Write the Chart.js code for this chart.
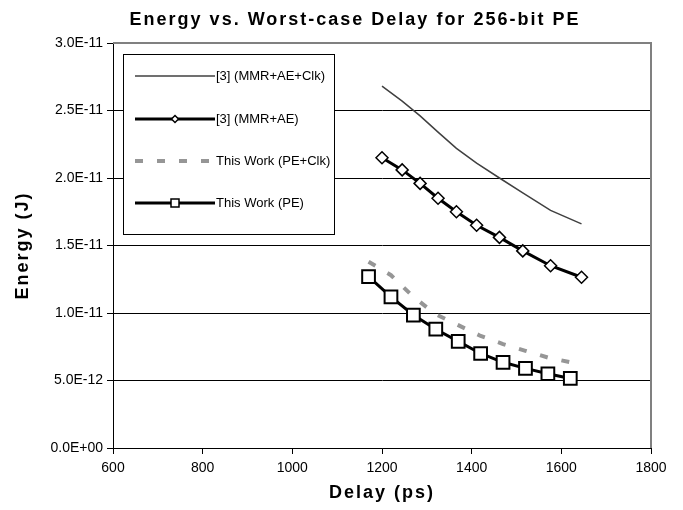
<!DOCTYPE html>
<html>
<head>
<meta charset="utf-8">
<script src="https://cdn.jsdelivr.net/npm/chart.js@4/dist/chart.umd.min.js"></script>
<style>
  html, body { margin: 0; padding: 0; background: #fff; }
  #wrap { width: 683px; height: 510px; }
</style>
</head>
<body>
<div id="wrap"><canvas id="energy-chart" width="683" height="510"></canvas></div>
<script>
// values
const xTicks = [600, 800, 1000, 1200, 1400, 1600, 1800];
const yTicks = [0, 5e-12, 1e-11, 1.5e-11, 2e-11, 2.5e-11, 3e-11];

const refDelay = [1200, 1245, 1285, 1325, 1366, 1411, 1462, 1514, 1576, 1645];
const refClkEnergy = [2.68e-11, 2.57e-11, 2.46e-11, 2.34e-11, 2.22e-11, 2.11e-11, 2.00e-11, 1.89e-11, 1.76e-11, 1.66e-11];
const refEnergy = [2.15e-11, 2.06e-11, 1.96e-11, 1.85e-11, 1.75e-11, 1.65e-11, 1.56e-11, 1.46e-11, 1.35e-11, 1.265e-11];

const workDelay = [1170, 1220, 1270, 1320, 1370, 1420, 1470, 1520, 1570, 1620];
const workClkEnergy = [1.38e-11, 1.28e-11, 1.12e-11, 0.99e-11, 0.91e-11, 0.83e-11, 0.77e-11, 0.72e-11, 0.67e-11, 0.635e-11];
const workEnergy = [1.27e-11, 1.12e-11, 0.985e-11, 0.88e-11, 0.79e-11, 0.70e-11, 0.635e-11, 0.59e-11, 0.55e-11, 0.515e-11];

const seriesNames = ['[3] (MMR+AE+Clk)', '[3] (MMR+AE)', 'This Work (PE+Clk)', 'This Work (PE)'];

const FONT = '"Liberation Sans", Arial, sans-serif';

// builds {x, y} points for the scatter datasets
function toPoints(xs, ys) {
    const pts = [];
    for (let i = 0; i < xs.length; i++) {
        pts.push({ x: xs[i], y: ys[i] });
    }
    return pts;
}

// Excel style scientific label, e.g. 5.0E-12, 0.0E+00
function sciLabel(v) {
    if (v === 0) return '0.0E+00';
    let exp = Math.floor(Math.log10(Math.abs(v)) + 1e-9);
    let mant = v / Math.pow(10, exp);
    let sign = exp < 0 ? '-' : '+';
    let e = String(Math.abs(exp)).padStart(2, '0');
    return mant.toFixed(1) + 'E' + sign + e;
}

// draws the frame, titles and the boxed legend inside the plot
const decorPlugin = {
    id: 'decor',
    afterDraw(chart) {
        const ctx = chart.ctx;
        const a = chart.chartArea;
        ctx.save();
        // grey top and right border of the plot area
        ctx.strokeStyle = '#808080';
        ctx.lineWidth = 2;
        ctx.beginPath();
        ctx.moveTo(a.left, a.top);
        ctx.lineTo(a.right, a.top);
        ctx.lineTo(a.right, a.bottom);
        ctx.stroke();

        // titles (Excel draws them quite spaced out)
        ctx.fillStyle = '#000';
        ctx.textAlign = 'center';
        ctx.textBaseline = 'middle';
        ctx.letterSpacing = '2px';
        ctx.font = 'bold 18px ' + FONT;
        ctx.fillText('Energy vs. Worst-case Delay for 256-bit PE', 355, 20);
        ctx.fillText('Delay (ps)', (a.left + a.right) / 2, 493);
        ctx.save();
        ctx.translate(23, (a.top + a.bottom) / 2);
        ctx.rotate(-Math.PI / 2);
        ctx.fillText('Energy (J)', 0, 0);
        ctx.restore();
        ctx.letterSpacing = '0px';

        // legend box
        const bx = 123, by = 54, bw = 211, bh = 180;
        ctx.fillStyle = '#fff';
        ctx.fillRect(bx, by, bw, bh);
        ctx.strokeStyle = '#000';
        ctx.lineWidth = 1;
        ctx.strokeRect(bx + 0.5, by + 0.5, bw, bh);

        const rows = [76, 119, 161, 203];
        chart.data.datasets.forEach((ds, i) => {
            const y = rows[i];
            ctx.strokeStyle = ds.borderColor;
            ctx.lineWidth = ds.borderWidth;
            ctx.setLineDash(ds.borderDash || []);
            ctx.beginPath();
            ctx.moveTo(135, y);
            ctx.lineTo(215, y);
            ctx.stroke();
            ctx.setLineDash([]);
            if (ds.pointRadius > 0) {
                ctx.fillStyle = '#fff';
                ctx.strokeStyle = '#000';
                ctx.lineWidth = 1.5;
                ctx.beginPath();
                if (ds.pointStyle === 'rect') {
                    ctx.rect(175 - 4, y - 4, 8, 8);
                } else {
                    ctx.moveTo(175, y - 3.5);
                    ctx.lineTo(178.5, y);
                    ctx.lineTo(175, y + 3.5);
                    ctx.lineTo(171.5, y);
                    ctx.closePath();
                }
                ctx.fill();
                ctx.stroke();
            }
            ctx.fillStyle = '#000';
            ctx.font = '13px ' + FONT;
            ctx.textAlign = 'left';
            ctx.fillText(seriesNames[i], 216, y);
        });
        ctx.restore();
    }
};

const ctx = document.getElementById('energy-chart').getContext('2d');
const chart = new Chart(ctx, {
    type: 'scatter',
    data: {
        datasets: [
            {
                label: seriesNames[0],
                data: toPoints(refDelay, refClkEnergy),
                showLine: true,
                borderColor: '#404040',
                borderWidth: 1.5,
                pointRadius: 0,
                tension: 0
            },
            {
                label: seriesNames[1],
                data: toPoints(refDelay, refEnergy),
                showLine: true,
                borderColor: '#000',
                borderWidth: 3,
                pointStyle: 'rectRot',
                pointRadius: 6,
                pointBackgroundColor: '#fff',
                pointBorderColor: '#000',
                pointBorderWidth: 1.5
            },
            {
                label: seriesNames[2],
                data: toPoints(workDelay, workClkEnergy),
                showLine: true,
                borderColor: '#969696',
                borderWidth: 4,
                borderDash: [8, 14],
                pointRadius: 0
            },
            {
                label: seriesNames[3],
                data: toPoints(workDelay, workEnergy),
                showLine: true,
                borderColor: '#000',
                borderWidth: 3,
                pointStyle: 'rect',
                pointRadius: 9,
                pointBackgroundColor: '#fff',
                pointBorderColor: '#000',
                pointBorderWidth: 2
            }
        ]
    },
    options: {
        responsive: false,
        animation: false,
        events: [],
        layout: {
            autoPadding: false,
            padding: { left: 0, right: 32, top: 43, bottom: 0 }
        },
        plugins: {
            legend: { display: false },
            title: { display: false },
            tooltip: { enabled: false }
        },
        scales: {
            x: {
                type: 'linear',
                min: 600,
                max: 1800,
                afterFit(scale) { scale.height = 62; },
                afterBuildTicks(scale) { scale.ticks = xTicks.map(v => ({ value: v })); },
                ticks: {
                    color: '#000',
                    font: { family: FONT, size: 14 },
                    padding: 6,
                    maxRotation: 0,
                    autoSkip: false,
                    callback: (v) => String(v)
                },
                grid: { drawOnChartArea: false, drawTicks: true, tickLength: 6, color: '#000' },
                border: { color: '#000', width: 1 }
            },
            y: {
                type: 'linear',
                min: 0,
                max: 3e-11,
                afterFit(scale) { scale.width = 113; },
                afterBuildTicks(scale) { scale.ticks = yTicks.map(v => ({ value: v })); },
                ticks: {
                    color: '#000',
                    font: { family: FONT, size: 14 },
                    padding: 4,
                    autoSkip: false,
                    callback: (v) => sciLabel(v)
                },
                grid: { color: '#000', lineWidth: 1, drawTicks: true, tickLength: 6 },
                border: { color: '#000', width: 1 }
            }
        }
    },
    plugins: [decorPlugin]
});
</script>
</body>
</html>
